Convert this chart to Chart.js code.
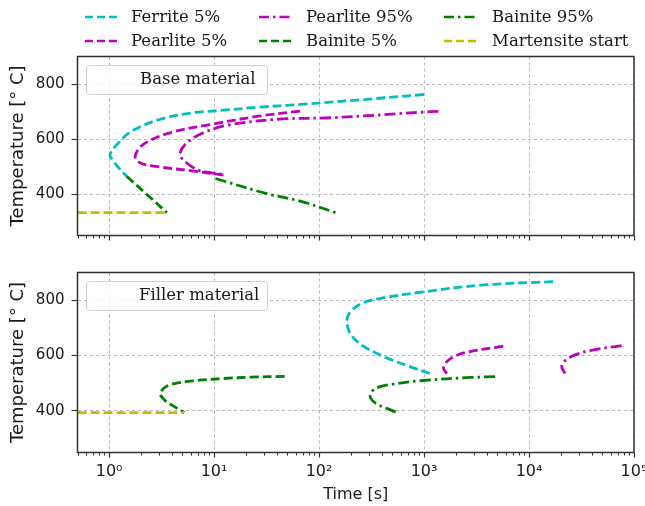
<!DOCTYPE html>
<html><head><meta charset="utf-8">
<script src="https://cdn.jsdelivr.net/npm/chart.js@4.4.0/dist/chart.umd.min.js"></script>
<style>
html,body{margin:0;padding:0;background:#fff;}
#wrap{position:relative;width:645px;height:506px;overflow:hidden;background:#fff;}
canvas{position:absolute;left:0;}
.leg{position:absolute;font-family:'DejaVu Serif';font-size:16.5px;color:#1a1a1a;white-space:nowrap;line-height:20px;height:20px;}
.sw{position:absolute;}
.box{position:absolute;border:1px solid #d0d0d0;border-radius:4px;background:rgba(255,255,255,0.85);}
</style></head>
<body><div id="wrap">
<canvas id="cTop" width="645" height="250" style="top:0px"></canvas>
<canvas id="cBot" width="645" height="256" style="top:250px"></canvas>
<div id="legend"></div>
<div class="box" style="left:86px;top:65px;width:180px;height:28px"></div>
<div class="leg" style="left:140px;top:69px">Base material</div>
<div class="box" style="left:86px;top:281px;width:180px;height:28px"></div>
<div class="leg" style="left:139px;top:285px">Filler material</div>
</div>
<script>
// ---------- data ----------
const xTickValues = [1, 10, 100, 1000, 10000, 100000];
const xTickLabels = ['10⁰', '10¹', '10²', '10³', '10⁴', '10⁵'];
const yTickValues = [400, 600, 800];

// Base material (time [s], temperature [°C])
const baseFerrite5_t   = [1000, 250, 66, 27, 11.4, 6.35, 3.06, 1.64, 1.23, 1.02, 1.1, 1.27, 1.47];
const baseFerrite5_T   = [762, 743, 726, 716, 704, 696, 672, 629, 587, 544, 520, 490, 465];
const basePearlite5_t  = [66, 27.4, 9.2, 3.81, 2.12, 1.77, 1.97, 2.64, 6.35, 13.2];
const basePearlite5_T  = [702, 684, 653, 623, 581, 538, 514, 502, 484, 468];
const basePearlite95_t = [1370, 980, 136, 39.5, 13.2, 7.9, 5.5, 4.75, 5.0, 6.8, 9.2, 12.7];
const basePearlite95_T = [701, 698, 678, 672, 650, 623, 587, 550, 528, 490, 478, 471];
const baseBainite5_t   = [1.47, 2.29, 3.55];
const baseBainite5_T   = [465, 399, 333];
const baseBainite95_t  = [10.3, 31.8, 66, 147];
const baseBainite95_T  = [457, 402, 375, 332];
const baseMartensite_t = [0.5, 3.55];
const baseMartensite_T = [333, 333];

// Filler material
const fillFerrite5_t   = [17000, 3670, 980, 400, 260, 205, 187, 184, 200, 250, 330, 450, 684, 1183];
const fillFerrite5_T   = [867, 855, 830, 808, 790, 764, 740, 715, 677, 640, 614, 590, 564, 533];
const fillPearlite5_t  = [5690, 2550, 1770, 1530, 1645];
const fillPearlite5_T  = [634, 612, 588, 557, 535];
const fillPearlite95_t = [76300, 38100, 24500, 20500, 22000];
const fillPearlite95_T = [636, 618, 594, 564, 535];
const fillBainite5_t   = [47, 22, 12, 6.3, 4.2, 3.4, 3.08, 3.4, 4.0, 5.2];
const fillBainite5_T   = [525, 522, 517, 509, 499, 485, 461, 438, 420, 395];
const fillBainite95_t  = [4740, 2742, 980, 510, 347, 306, 347, 440, 550];
const fillBainite95_T  = [524, 521, 510, 497, 482, 455, 427, 410, 394];
const fillMartensite_t = [0.5, 5.2];
const fillMartensite_T = [394, 394];

const labels = ['Ferrite 5%', 'Pearlite 5%', 'Pearlite 95%', 'Bainite 5%', 'Bainite 95%', 'Martensite start'];

// ---------- styles ----------
const C = {c:'#00bfbf', m:'#bf00bf', g:'#008000', y:'#bfbf00'};
const DASH = [9, 4];
const DASHDOT = [11, 4, 2.5, 4];
const styles = [
  {color:C.c, dash:DASH}, {color:C.m, dash:DASH}, {color:C.m, dash:DASHDOT},
  {color:C.g, dash:DASH}, {color:C.g, dash:DASHDOT}, {color:C.y, dash:DASH}
];

function pts(t, T){ return t.map((v,i)=>({x:v, y:T[i]})); }
function makeDatasets(series){
  return series.map((s,i)=>({
    label: labels[i], data: pts(s[0], s[1]),
    borderColor: styles[i].color, borderDash: styles[i].dash, borderWidth: 2.8,
    pointRadius: 0, tension: 0.35, fill:false, order: 6 - i,
    borderCapStyle:'butt'
  }));
}

const framePlugin = {
  id:'frame',
  afterDraw(chart){
    const {ctx, chartArea:a, scales:{x}} = chart;
    ctx.save();
    ctx.setLineDash([]);
    ctx.strokeStyle = '#333';
    ctx.lineWidth = 1;
    ctx.beginPath();
    for (let d = 0.1; d < 1e5; d *= 10){
      for (let m = 2; m <= 9; m++){
        const v = m * d;
        if (v < 0.5 || v > 1e5) continue;
        const px = Math.round(x.getPixelForValue(v)) + 0.5;
        ctx.moveTo(px, a.bottom); ctx.lineTo(px, a.bottom + 3);
      }
    }
    ctx.stroke();
    ctx.lineWidth = 1.5;
    ctx.strokeRect(a.left, a.top, a.right - a.left, a.bottom - a.top);
    ctx.restore();
  }
};

function makeOptions(isBottom){
  const gridCommon = {color:'#a8a8a8', lineWidth:0.8, tickColor:'#333', tickWidth:1.2, drawTicks:true};
  return {
    responsive:false, animation:false,
    layout:{padding:{left:0, right:11, top: isBottom ? 22.5 : 56.5, bottom: isBottom ? 0 : 4}},
    plugins:{legend:{display:false}, tooltip:{enabled:false}},
    scales:{
      x:{
        type:'logarithmic', min:0.5, max:1e5, bounds:'data',
        afterBuildTicks: s => { s.ticks = xTickValues.map(v => ({value:v})); },
        afterFit: s => { s.height = isBottom ? 53.5 : 10.5; s.paddingLeft = 0; s.paddingRight = 0; },
        grid:Object.assign({tickLength:5}, gridCommon),
        border:{display:false, dash:[3,3]},
        ticks:{display:isBottom, autoSkip:false, maxRotation:0, padding:5,
          font:{family:'DejaVu Sans', size:16}, color:'#1a1a1a',
          callback:(v) => { const i = xTickValues.indexOf(v); return i >= 0 ? xTickLabels[i] : ''; }},
        title:{display:isBottom, text:'Time [s]', font:{family:'DejaVu Sans', size:16}, color:'#1a1a1a', padding:{top:0, bottom:2}}
      },
      y:{
        type:'linear', min:250, max:900,
        afterBuildTicks: s => { s.ticks = yTickValues.map(v => ({value:v})); },
        afterFit: s => { s.width = 77.5; s.paddingTop = 0; s.paddingBottom = 0; },
        grid:Object.assign({tickLength:6}, gridCommon),
        border:{display:false, dash:[3,3]},
        ticks:{padding:7, font:{family:'DejaVu Sans', size:15}, color:'#1a1a1a'},
        title:{display:true, text:'Temperature [° C]', font:{family:'DejaVu Sans', size:18}, color:'#1a1a1a', padding:{top:8, bottom:0}}
      }
    }
  };
}

new Chart(document.getElementById('cTop'), {
  type:'line',
  data:{datasets: makeDatasets([
    [baseFerrite5_t, baseFerrite5_T], [basePearlite5_t, basePearlite5_T], [basePearlite95_t, basePearlite95_T],
    [baseBainite5_t, baseBainite5_T], [baseBainite95_t, baseBainite95_T], [baseMartensite_t, baseMartensite_T]
  ])},
  options: makeOptions(false),
  plugins:[framePlugin]
});
new Chart(document.getElementById('cBot'), {
  type:'line',
  data:{datasets: makeDatasets([
    [fillFerrite5_t, fillFerrite5_T], [fillPearlite5_t, fillPearlite5_T], [fillPearlite95_t, fillPearlite95_T],
    [fillBainite5_t, fillBainite5_T], [fillBainite95_t, fillBainite95_T], [fillMartensite_t, fillMartensite_T]
  ])},
  options: makeOptions(true),
  plugins:[framePlugin]
});

// ---------- figure legend (3 columns, column-major order) ----------
const legendOrder = [0, 2, 4, 1, 3, 5];
const colSwatchX = [85, 259, 444];
const colTextX = [131, 306, 492];
const rowTop = [7, 31];
const legendEl = document.getElementById('legend');
legendOrder.forEach((di, k) => {
  const col = k % 3, row = Math.floor(k / 3);
  const st = styles[di];
  const svgNS = 'http://www.w3.org/2000/svg';
  const svg = document.createElementNS(svgNS, 'svg');
  svg.setAttribute('width', '34'); svg.setAttribute('height', '20');
  svg.setAttribute('class', 'sw');
  svg.style.left = colSwatchX[col] + 'px'; svg.style.top = rowTop[row] + 'px';
  const ln = document.createElementNS(svgNS, 'line');
  ln.setAttribute('x1', '0'); ln.setAttribute('x2', '34');
  ln.setAttribute('y1', '10'); ln.setAttribute('y2', '10');
  ln.setAttribute('stroke', st.color); ln.setAttribute('stroke-width', '2.5');
  ln.setAttribute('stroke-dasharray', (st.dash === DASH ? [8,4] : [10,4,2.5,4]).join(','));
  svg.appendChild(ln);
  legendEl.appendChild(svg);
  const tx = document.createElement('div');
  tx.className = 'leg';
  tx.style.left = colTextX[col] + 'px'; tx.style.top = rowTop[row] + 'px';
  tx.textContent = labels[di];
  legendEl.appendChild(tx);
});
</script>
</body></html>
